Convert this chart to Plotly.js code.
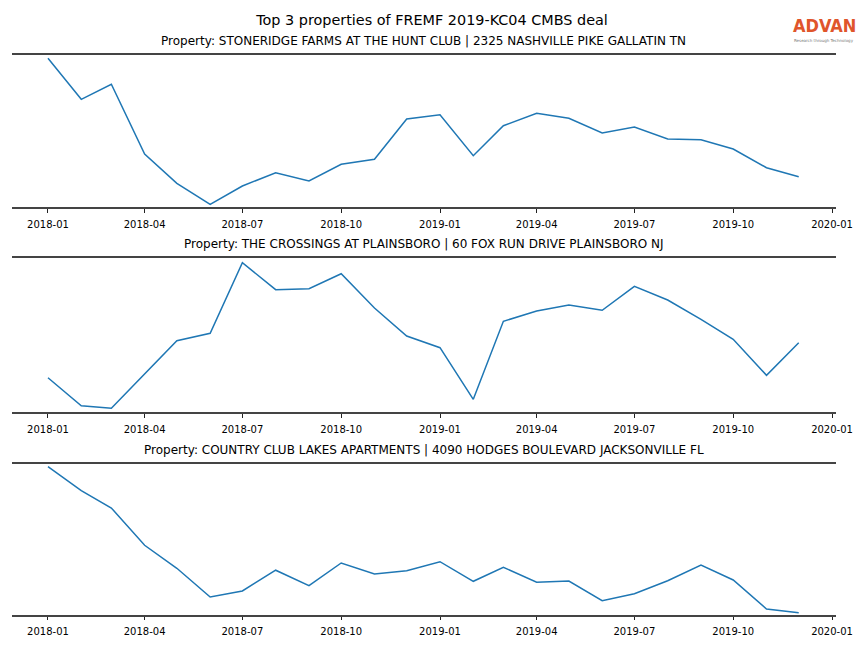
<!DOCTYPE html>
<html>
<head>
<meta charset="utf-8">
<script src="https://cdn.plot.ly/plotly-3.0.1.min.js"></script>
<style>
html,body{margin:0;padding:0;background:#fff;}
#chart{width:864px;height:648px;}
</style>
</head>
<body>
<div id="chart"></div>
<script>
// Monthly dates
const months = ['2018-01-01','2018-02-01','2018-03-01','2018-04-01','2018-05-01','2018-06-01',
  '2018-07-01','2018-08-01','2018-09-01','2018-10-01','2018-11-01','2018-12-01',
  '2019-01-01','2019-02-01','2019-03-01','2019-04-01','2019-05-01','2019-06-01',
  '2019-07-01','2019-08-01','2019-09-01','2019-10-01','2019-11-01','2019-12-01'];

// Relative activity values (no y scale shown in the original)
const stoneridge = [148.7,107.7,122.7,53,23.7,2.7,21,34.3,26,42.7,47.7,88,
  92.3,51.3,81.3,93.7,88.7,74,80,68,67.3,58,39.3,30.3];
const crossings = [34.3,6.3,3.7,38,71.3,78.7,149.3,122.3,123.3,138.3,104,76,
  64.3,12.7,90.7,101,107,101.7,125.7,112,92.7,72.7,36.7,69.3];
const countryClub = [148,124,106.7,69.4,46.4,17.7,23.7,44.5,29,51.7,40.7,44,
  53,33.4,47.4,32.4,33.7,14,21,34,49.7,34.7,5.7,2];

const propertyTitles = [
  'Property: STONERIDGE FARMS AT THE HUNT CLUB | 2325 NASHVILLE PIKE GALLATIN TN',
  'Property: THE CROSSINGS AT PLAINSBORO | 60 FOX RUN DRIVE PLAINSBORO NJ',
  'Property: COUNTRY CLUB LAKES APARTMENTS | 4090 HODGES BOULEVARD JACKSONVILLE FL'
];
const mainTitle = 'Top 3 properties of FREMF 2019-KC04 CMBS deal';
const yMax = [152, 154.3, 151];

const W = 864, H = 648;
const xDom = [12/W, 836/W];
const yDoms = [[441/H, 593/H],[236/H, 390.3/H],[33.3/H, 184.3/H]];
const font = 'DejaVu Sans, sans-serif';
const series = [stoneridge, crossings, countryClub];

const traces = series.map((vals, i) => ({
  x: months, y: vals, type: 'scatter', mode: 'lines',
  line: {color: '#1f77b4', width: 1.5},
  xaxis: i === 0 ? 'x' : 'x' + (i + 1),
  yaxis: i === 0 ? 'y' : 'y' + (i + 1),
  hoverinfo: 'x+y'
}));

const layout = {
  width: W, height: H,
  margin: {l: 0, r: 0, t: 0, b: 0},
  paper_bgcolor: '#fff', plot_bgcolor: '#fff',
  showlegend: false,
  font: {family: font, color: '#000'},
  title: {text: mainTitle, font: {family: font, size: 14.4, color: '#000'},
          x: 0.5, xanchor: 'center', y: 1 - 19.5/H, yanchor: 'middle'},
  annotations: []
};

for (let i = 0; i < 3; i++) {
  const sx = i === 0 ? '' : String(i + 1);
  layout['xaxis' + sx] = {
    domain: xDom, anchor: 'y' + sx, type: 'date',
    range: ['2017-11-28 12:00', '2020-01-04 17:00'],
    tick0: '2018-01-01', dtick: 'M3', tickformat: '%Y-%m',
    ticks: 'outside', ticklen: 3.5, tickwidth: 1, tickcolor: '#222',
    ticklabelstandoff: 3,
    tickfont: {family: font, size: 10, color: '#000'},
    showline: true, mirror: true, linecolor: '#444', linewidth: 2,
    showgrid: false, zeroline: false
  };
  layout['yaxis' + sx] = {
    domain: yDoms[i], anchor: 'x' + sx, range: [0, yMax[i]],
    visible: false, showgrid: false, zeroline: false, fixedrange: true
  };
  layout.annotations.push({
    text: propertyTitles[i], xref: 'paper', yref: 'paper',
    x: (xDom[0] + xDom[1]) / 2, y: yDoms[i][1], xanchor: 'center', yanchor: 'bottom',
    yshift: 5, showarrow: false, font: {family: font, size: 12, color: '#000'}
  });
}

// Logo
layout.annotations.push({
  text: '<b>ADVAN</b>', xref: 'paper', yref: 'paper', x: 824/W, y: 1 - 26/H,
  xanchor: 'center', yanchor: 'middle', showarrow: false,
  font: {family: 'DejaVu Sans Condensed, DejaVu Sans, sans-serif', size: 18, color: '#e0552b'}
});
layout.annotations.push({
  text: 'Research through Technology', xref: 'paper', yref: 'paper', x: 824/W, y: 1 - 40.5/H,
  xanchor: 'center', yanchor: 'middle', showarrow: false,
  font: {family: 'DejaVu Sans, sans-serif', size: 4, color: '#777'}
});

Plotly.newPlot('chart', traces, layout, {displayModeBar: false, staticPlot: true});
</script>
</body>
</html>
